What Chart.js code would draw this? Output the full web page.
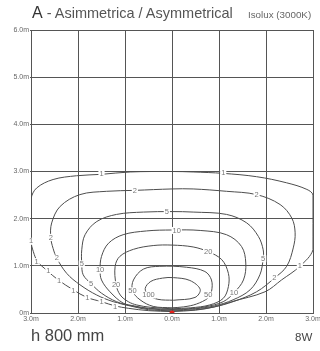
<!DOCTYPE html>
<html>
<head>
<meta charset="utf-8">
<script src="https://cdn.jsdelivr.net/npm/chart.js@4.4.1/dist/chart.umd.min.js"></script>
<style>
  html, body { margin: 0; padding: 0; background: #fff; }
  #wrap { position: relative; width: 320px; height: 351px; font-family: "Liberation Sans", Arial, sans-serif; }
  #iso { position: absolute; left: 0; top: 0; }
  .t { position: absolute; white-space: nowrap; line-height: 1; }
</style>
</head>
<body>
<div id="wrap">
  <canvas id="iso" width="320" height="351"></canvas>
  <div class="t" style="left:32px; top:5px; color:#555; font-size:14.5px;"><span style="font-size:16px; color:#333;">A</span> - Asimmetrica / Asymmetrical</div>
  <div class="t" style="left:248px; top:10px; color:#666; font-size:9.8px;">Isolux (3000K)</div>
  <div class="t" style="left:31px; top:327px; color:#444; font-size:16.5px;">h 800 mm</div>
  <div class="t" style="left:295px; top:332px; color:#444; font-size:11.5px;">8W</div>
</div>
<script>
// isolux levels (lux)
var levels = ["1", "2", "5", "10", "20", "50", "100"];

// contour outlines, [x m, y m]
var iso1 = [[0,0.03],[-0.5,0.05],[-0.93,0.1],[-1.21,0.15],[-1.5,0.24],[-1.81,0.33],[-2.1,0.49],[-2.42,0.7],[-2.67,0.91],[-2.86,1.09],[-2.95,1.3],[-3,1.52],[-3,2.0],[-3,2.42],[-2.88,2.65],[-2.53,2.83],[-2.03,2.91],[-1.5,2.94],[-0.89,2.99],[0,3.0],[0.45,2.99],[1.09,2.96],[1.8,2.89],[2.44,2.76],[2.87,2.62],[3,2.5],[3,1.9],[3,1.34],[2.72,0.99],[2.33,0.7],[1.98,0.45],[1.27,0.24],[0.91,0.13],[0.5,0.06],[0,0.03]];
var iso2 = [[0,0.045],[-0.5,0.07],[-0.89,0.15],[-1.25,0.24],[-1.6,0.38],[-1.96,0.6],[-2.24,0.84],[-2.45,1.16],[-2.53,1.37],[-2.58,1.6],[-2.56,1.91],[-2.38,2.26],[-1.96,2.51],[-1.39,2.58],[-0.79,2.6],[0,2.63],[0.45,2.63],[1.16,2.58],[1.8,2.51],[2.3,2.3],[2.55,2.01],[2.62,1.7],[2.58,1.38],[2.44,0.99],[2.18,0.74],[1.8,0.45],[1.3,0.24],[0.9,0.13],[0.5,0.07],[0,0.045]];
var iso5 = [[0,0.06],[-0.5,0.09],[-0.85,0.15],[-1.18,0.24],[-1.5,0.42],[-1.72,0.62],[-1.89,0.81],[-1.92,1.04],[-1.92,1.34],[-1.85,1.66],[-1.6,1.94],[-1.18,2.09],[-0.61,2.14],[0,2.15],[0.45,2.14],[1.16,2.09],[1.59,1.91],[1.84,1.62],[1.94,1.34],[1.94,1.15],[1.87,0.81],[1.66,0.49],[1.3,0.28],[0.9,0.15],[0.5,0.09],[0,0.06]];
var iso10 = [[0,0.075],[-0.5,0.1],[-0.8,0.15],[-1.04,0.21],[-1.32,0.45],[-1.5,0.7],[-1.53,0.91],[-1.5,1.2],[-1.35,1.48],[-1.04,1.66],[-0.54,1.74],[0,1.76],[0.6,1.75],[1.16,1.66],[1.48,1.41],[1.57,1.06],[1.52,0.7],[1.32,0.43],[1.09,0.24],[0.7,0.13],[0.35,0.09],[0,0.075]];
var iso20 = [[0,0.09],[-0.45,0.12],[-0.75,0.17],[-0.93,0.24],[-1.1,0.38],[-1.19,0.6],[-1.21,0.99],[-1.11,1.2],[-0.82,1.35],[-0.4,1.43],[0,1.44],[0.45,1.4],[0.77,1.3],[1.06,1.13],[1.2,0.84],[1.2,0.56],[1.09,0.31],[0.8,0.17],[0.4,0.11],[0,0.09]];
var iso50 = [[0,0.11],[-0.4,0.14],[-0.68,0.28],[-0.84,0.47],[-0.82,0.7],[-0.61,0.93],[-0.26,0.99],[0.31,0.97],[0.7,0.88],[0.84,0.7],[0.84,0.45],[0.77,0.32],[0.52,0.19],[0.25,0.13],[0,0.11]];
var iso100 = [[0.03,0.27],[-0.3,0.29],[-0.5,0.38],[-0.57,0.52],[-0.45,0.67],[-0.2,0.74],[0.03,0.75],[0.38,0.69],[0.6,0.5],[0.49,0.33],[0.03,0.27]];

// where the level numbers are written
var lab1 = [[-1.5,2.94],[1.09,2.96],[-3,1.52],[-2.88,1.09],[-2.63,0.9],[-2.4,0.67],[-2.1,0.47],[-1.8,0.31],[-1.5,0.24],[-1.21,0.13],[2.72,0.99]];
var lab2 = [[-2.58,1.6],[-2.45,1.16],[-0.79,2.59],[1.8,2.51],[2.18,0.74]];
var lab5 = [[-1.92,1.04],[-1.72,0.62],[-0.11,2.14],[1.94,1.15]];
var lab10 = [[-1.53,0.91],[0.1,1.75],[1.32,0.43]];
var lab20 = [[-1.19,0.6],[0.77,1.3]];
var lab50 = [[-0.84,0.47],[0.77,0.38]];
var lab100 = [[-0.5,0.38]];

// luminaire position
var source = [[0, 0]];

var xTicks = [-3, -2, -1, 0, 1, 2, 3];
var yTicks = [0, 1, 2, 3, 4, 5, 6];

var contours = [iso1, iso2, iso5, iso10, iso20, iso50, iso100];
var labelSpots = [lab1, lab2, lab5, lab10, lab20, lab50, lab100];

function pts(arr) {
  return arr.map(function (p) { return { x: p[0], y: p[1] }; });
}

var datasets = [{
  label: "source",
  data: pts(source),
  showLine: false,
  pointRadius: 2.5,
  pointBackgroundColor: "#e8201c",
  pointBorderWidth: 0
}];
contours.forEach(function (c, i) {
  datasets.push({
    label: levels[i],
    data: pts(c),
    showLine: true,
    borderColor: "#4d4d4d",
    borderWidth: 1,
    pointRadius: 0,
    tension: 0.35,
    fill: false
  });
});

var contourLabels = {
  id: "contourLabels",
  afterDatasetsDraw: function (chart) {
    var ctx = chart.ctx;
    var xs = chart.scales.x, ys = chart.scales.y;
    ctx.save();
    ctx.font = "7.5px 'Liberation Sans', Arial, sans-serif";
    ctx.textAlign = "center";
    ctx.textBaseline = "middle";
    labelSpots.forEach(function (spots, i) {
      spots.forEach(function (s) {
        var px = xs.getPixelForValue(s[0]);
        var py = ys.getPixelForValue(s[1]);
        var w = ctx.measureText(levels[i]).width + 2;
        ctx.fillStyle = "#fff";
        ctx.fillRect(px - w / 2, py - 3.5, w, 7);
        ctx.fillStyle = "#777";
        ctx.fillText(levels[i], px, py);
      });
    });
    ctx.restore();
  }
};

var ctx = document.getElementById("iso").getContext("2d");
var chart = new Chart(ctx, {
  type: "scatter",
  data: { datasets: datasets },
  plugins: [contourLabels],
  options: {
    responsive: false,
    animation: false,
    events: [],
    layout: { padding: { top: 30, right: 7, left: 0, bottom: 26 } },
    plugins: { legend: { display: false }, tooltip: { enabled: false } },
    scales: {
      x: {
        type: "linear",
        min: -3, max: 3,
        afterBuildTicks: function (s) { s.ticks = xTicks.map(function (v) { return { value: v }; }); },
        afterFit: function (s) { s.height = 12; s.paddingLeft = 0; s.paddingRight = 0; },
        ticks: {
          padding: 2,
          maxRotation: 0,
          color: "#666",
          font: { size: 7, family: "'Liberation Sans', Arial, sans-serif" },
          callback: function (v) { return Math.abs(v).toFixed(1) + "m"; }
        },
        grid: { color: "#555", lineWidth: 1, drawTicks: false },
        border: { color: "#555", width: 1 }
      },
      y: {
        type: "linear",
        min: 0, max: 6,
        afterBuildTicks: function (s) { s.ticks = yTicks.map(function (v) { return { value: v }; }); },
        afterFit: function (s) { s.width = 31; s.paddingTop = 0; s.paddingBottom = 0; },
        ticks: {
          padding: 1,
          color: "#666",
          font: { size: 7, family: "'Liberation Sans', Arial, sans-serif" },
          callback: function (v) { return v === 0 ? "0m" : v.toFixed(1) + "m"; }
        },
        grid: { color: "#555", lineWidth: 1, tickLength: 1 },
        border: { color: "#555", width: 1 }
      }
    }
  }
});
</script>
</body>
</html>
